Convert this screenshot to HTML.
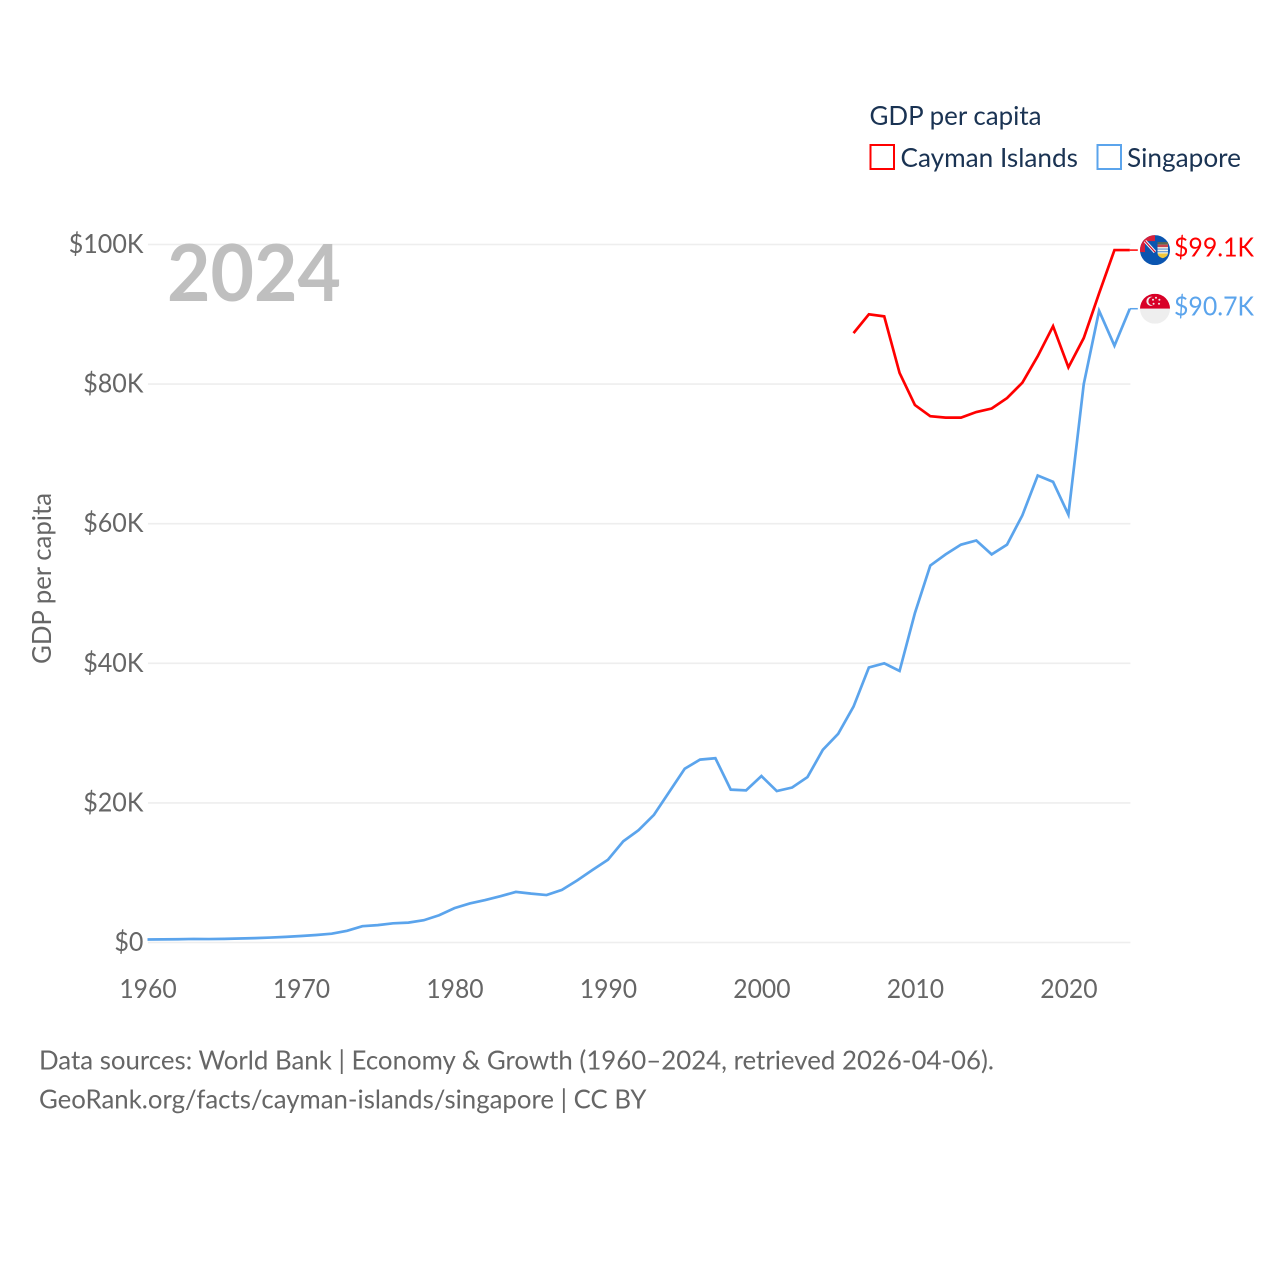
<!DOCTYPE html>
<html lang="en">
<head>
<meta charset="utf-8">
<title>GDP per capita: Cayman Islands and Singapore</title>
<style>
  html, body { margin: 0; padding: 0; background: #fff; }
  svg { display: block; }
  text { font-family: "Lato", "Liberation Sans", sans-serif; }
</style>
</head>
<body>
<svg id="chart" xmlns="http://www.w3.org/2000/svg" width="1280" height="1280" viewBox="0 0 1280 1280">
  <rect x="0" y="0" width="1280" height="1280" fill="#ffffff"/>
  <defs>
    <clipPath id="clip-ky"><circle cx="0" cy="0" r="15"/></clipPath>
    <clipPath id="clip-sg"><circle cx="0" cy="0" r="15"/></clipPath>
  </defs>
  <g id="grid"></g>
  <g id="yticks"></g>
  <g id="xticks"></g>
  <text x="167" y="301" font-size="79" font-weight="700" fill="#bfbfbf" textLength="174" lengthAdjust="spacingAndGlyphs">2024</text>
  <text transform="translate(51 664) rotate(-90)" font-size="26" fill="#666666" textLength="171" lengthAdjust="spacingAndGlyphs">GDP per capita</text>
  <g id="series"></g>

  <g id="flag-ky">
    <g clip-path="url(#clip-ky)">
      <rect x="-15" y="-15" width="30" height="30" fill="#0b55b0"/>
      <rect x="-15" y="-15" width="15" height="17" fill="#d8203a"/>
      <rect x="-10" y="-9" width="10" height="11" fill="#0b55b0"/>
      <path d="M-10 -9 L0 2" stroke="#f2f2f2" stroke-width="3.2" fill="none"/>
      <path d="M-10 -9 L0 2" stroke="#d80027" stroke-width="1.1" fill="none"/>
      <path d="M2.5 -7 H13 V2 Q13 6.5 7.7 8 Q2.5 6.5 2.5 2 Z" fill="#f4f1e4"/>
      <rect x="2.5" y="-8" width="10.5" height="2.6" fill="#5a6650"/>
      <rect x="2.5" y="-5.4" width="10.5" height="2.4" fill="#c9434f"/>
      <path d="M2.5 -1 H13 M2.5 1.6 H13" stroke="#5d95d6" stroke-width="1.2" fill="none"/>
      <path d="M2.6 3.4 H12.9 Q12.6 6.6 7.7 8 Q2.9 6.6 2.6 3.4 Z" fill="#f2c73a"/>
    </g>
  </g>
  <g id="flag-sg">
    <g clip-path="url(#clip-sg)">
      <rect x="-15" y="-15" width="30" height="15" fill="#d80027"/>
      <rect x="-15" y="0" width="30" height="15" fill="#eeeeee"/>
      <circle cx="-4" cy="-7.5" r="4.6" fill="#eeeeee"/>
      <circle cx="-2.4" cy="-7.5" r="4.2" fill="#d80027"/>
      <circle cx="1" cy="-11" r="1" fill="#eeeeee"/>
      <circle cx="4.4" cy="-9" r="1" fill="#eeeeee"/>
      <circle cx="4" cy="-5" r="1" fill="#eeeeee"/>
      <circle cx="-1.4" cy="-5" r="1" fill="#eeeeee"/>
      <circle cx="-2" cy="-9" r="1" fill="#eeeeee"/>
    </g>
  </g>
  <g id="value-labels"></g>

  <g>
    <text x="869.5" y="125" font-size="26" fill="#1a3353" textLength="172" lengthAdjust="spacingAndGlyphs">GDP per capita</text>
    <g>
      <rect x="870.5" y="145" width="23.5" height="24" fill="#ffffff" stroke="#ff0000" stroke-width="2"/>
      <text x="900.5" y="167" font-size="26" fill="#1a3353" textLength="177.5" lengthAdjust="spacingAndGlyphs">Cayman Islands</text>
    </g>
    <g>
      <rect x="1097.5" y="145" width="23.5" height="24" fill="#ffffff" stroke="#5ba4ec" stroke-width="2"/>
      <text x="1127" y="167" font-size="26" fill="#1a3353" textLength="114" lengthAdjust="spacingAndGlyphs">Singapore</text>
    </g>
  </g>

  <text x="39" y="1069.5" font-size="26" fill="#666666" textLength="955" lengthAdjust="spacingAndGlyphs">Data sources: World Bank | Economy &amp; Growth (1960–2024, retrieved 2026-04-06).</text>
  <text x="39" y="1108.5" font-size="26" fill="#666666" textLength="607.5" lengthAdjust="spacingAndGlyphs">GeoRank.org/facts/cayman-islands/singapore | CC BY</text>
</svg>

<script>
const singaporeStartYear = 1960;
const singaporeValues = [0.43, 0.45, 0.47, 0.51, 0.49, 0.52, 0.57, 0.63, 0.71, 0.81, 0.93, 1.07, 1.26, 1.68, 2.34, 2.49, 2.75, 2.85, 3.19, 3.9, 4.93, 5.6, 6.08, 6.63, 7.25, 7.0, 6.8, 7.54, 8.9, 10.4, 11.86, 14.5, 16.1, 18.3, 21.6, 24.9, 26.2, 26.4, 21.9, 21.8, 23.85, 21.7, 22.2, 23.7, 27.6, 29.9, 33.8, 39.4, 40.0, 38.9, 47.2, 54.0, 55.6, 57.0, 57.6, 55.6, 57.0, 61.2, 66.9, 66.0, 61.3, 80.0, 90.5, 85.5, 90.8];
const caymanStartYear = 2006;
const caymanValues = [87.3, 90.0, 89.7, 81.6, 77.0, 75.4, 75.2, 75.2, 76.0, 76.5, 78.0, 80.2, 84.0, 88.3, 82.4, 86.6, 93.0, 99.2, 99.2];
const yTickValues = [0, 20, 40, 60, 80, 100];
const yTickLabels = ["$0", "$20K", "$40K", "$60K", "$80K", "$100K"];
const xTickValues = [1960, 1970, 1980, 1990, 2000, 2010, 2020];
const xTickLabels = ["1960", "1970", "1980", "1990", "2000", "2010", "2020"];
const endLabels = ["$99.1K", "$90.7K"];

const SVG_NS = "http://www.w3.org/2000/svg";
function xScale(year) { return 147.5 + (year - 1960) * (1129.8 - 147.5) / 64; }
function yScale(value) { return 942.5 - value * 6.98; }
function make(tag, attrs, parent) {
  const el = document.createElementNS(SVG_NS, tag);
  for (const k in attrs) el.setAttribute(k, attrs[k]);
  parent.appendChild(el);
  return el;
}

const grid = document.getElementById("grid");
const yticks = document.getElementById("yticks");
const xticks = document.getElementById("xticks");
const seriesGroup = document.getElementById("series");
const valueLabels = document.getElementById("value-labels");

yTickValues.forEach(function (v, i) {
  const line = make("line", { x1: 148, x2: 1130.4, y1: yScale(v), y2: yScale(v), stroke: "#eeeeee", "stroke-width": 1.6 }, grid);
  
  
  const label = make("text", { x: 143.5, y: yScale(v) + 8.5, "text-anchor": "end", "font-size": 26, fill: "#666666" }, yticks);
  
  
  label.textContent = yTickLabels[i];
  label.setAttribute("textLength", (label.getComputedTextLength() * 0.965).toFixed(1));
  label.setAttribute("lengthAdjust", "spacingAndGlyphs");
});

xTickValues.forEach(function (v, i) {
  const label = make("text", { x: xScale(v) + 0.5, y: 998, "text-anchor": "middle", "font-size": 26, fill: "#666666" }, xticks);
  
  
  label.textContent = xTickLabels[i];
  label.setAttribute("textLength", (label.getComputedTextLength() * 0.95).toFixed(1));
  label.setAttribute("lengthAdjust", "spacingAndGlyphs");
});

function pathFor(values, startYear) {
  return values.map(function (v, i) {
    return (i ? "L" : "M") + xScale(startYear + i).toFixed(2) + " " + yScale(v).toFixed(2);
  }).join(" ");
}

const singaporeLine = make("path", { d: pathFor(singaporeValues, singaporeStartYear), fill: "none", stroke: "#5ba4ec", "stroke-width": 2.7, "stroke-linejoin": "miter" }, seriesGroup);



const caymanLine = make("path", { d: pathFor(caymanValues, caymanStartYear), fill: "none", stroke: "#ff0000", "stroke-width": 2.7, "stroke-linejoin": "miter" }, seriesGroup);



const caymanLast = caymanValues[caymanValues.length - 1];
const singaporeLast = singaporeValues[singaporeValues.length - 1];
const lastX = xScale(2024);

const caymanConnector = make("line", { x1: lastX, x2: lastX + 8, y1: yScale(caymanLast), y2: yScale(caymanLast), stroke: "#ff0000", "stroke-width": 1.5 }, seriesGroup);



const singaporeConnector = make("line", { x1: lastX, x2: lastX + 8, y1: yScale(singaporeLast), y2: yScale(singaporeLast), stroke: "#5ba4ec", "stroke-width": 1.5 }, seriesGroup);



document.getElementById("flag-ky").setAttribute("transform", "translate(1155 " + yScale(caymanLast) + ")");
document.getElementById("flag-sg").setAttribute("transform", "translate(1155 " + yScale(singaporeLast) + ")");

const caymanValueLabel = make("text", { x: 1174, y: yScale(caymanLast) + 6.5, "font-size": 26, fill: "#ff0000", textLength: 80, lengthAdjust: "spacingAndGlyphs" }, valueLabels);


caymanValueLabel.textContent = endLabels[0];

const singaporeValueLabel = make("text", { x: 1174, y: yScale(singaporeLast) + 7, "font-size": 26, fill: "#5ba4ec", textLength: 80, lengthAdjust: "spacingAndGlyphs" }, valueLabels);


singaporeValueLabel.textContent = endLabels[1];
</script>
</body>
</html>
